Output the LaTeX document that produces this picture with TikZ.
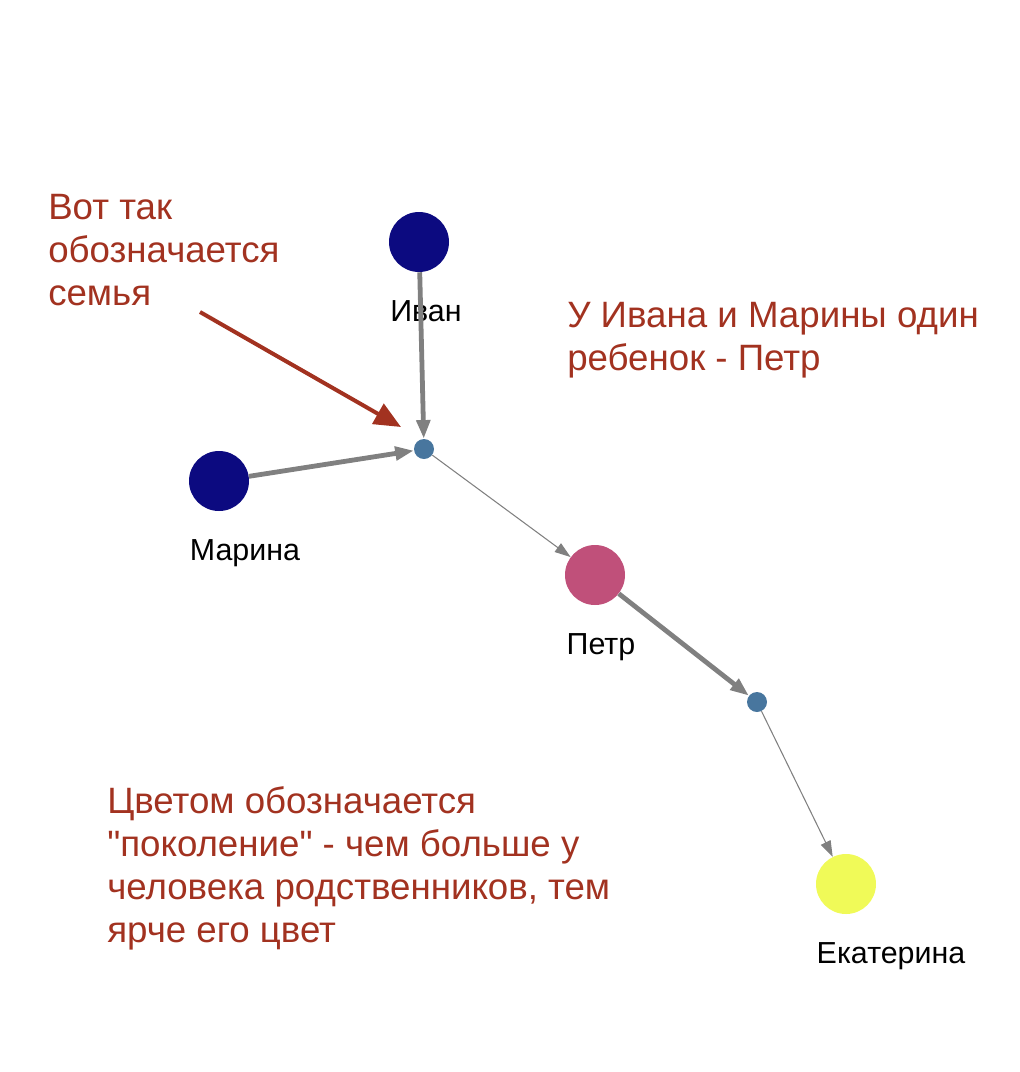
\documentclass[tikz,border=0pt]{standalone}
\usepackage{fontspec}
\setmainfont{Liberation Sans}[Ligatures=TeXOff]
\usetikzlibrary{arrows.meta}
\definecolor{redtxt}{RGB}{162,50,32}
\definecolor{navy}{RGB}{12,10,128}
\definecolor{famblue}{RGB}{72,118,158}
\definecolor{pink}{RGB}{192,80,122}
\definecolor{yel}{RGB}{240,250,88}
\definecolor{edgegray}{RGB}{128,128,128}
\begin{document}
\begin{tikzpicture}[x=0.75pt,y=-0.75pt,
  person/.style={circle,minimum size=45pt,inner sep=0,draw=none},
  family/.style={circle,minimum size=15pt,inner sep=0,fill=famblue,draw=none},
  lbl/.style={font=\fontsize{22.8}{27}\selectfont,anchor=base,inner sep=0},
  note/.style={font=\fontsize{27.5}{32.25}\selectfont,text=redtxt,anchor=base west,align=left,inner sep=0},
  thick edge/.style={draw=edgegray,line width=3.6pt,-{Triangle[length=14pt,width=10pt]}},
  thin edge/.style={draw=edgegray,line width=0.8pt,-{Triangle[length=12pt,width=8pt]}}]
\useasboundingbox (0,0) rectangle (1020,1072);
\node[person,fill=navy] (ivan) at (419,242) {};
\node[person,fill=navy] (marina) at (219,481) {};
\node[family] (f1) at (424,449) {};
\node[person,fill=pink] (petr) at (595,575) {};
\node[family] (f2) at (757,702) {};
\node[person,fill=yel] (ekat) at (846,884) {};
\node[lbl] (livan) at (426,321) {Иван};
\node[lbl] (lmarina) at (245,560) {Марина};
\node[lbl] (lpetr) at (601,654) {Петр};
\node[lbl] (lekat) at (891,963) {Екатерина};
\draw[thick edge] (ivan) -- (f1);
\draw[thick edge] (marina) -- (f1);
\draw[thin edge] (f1) -- (petr);
\draw[thick edge] (petr) -- (f2);
\draw[thin edge] (f2) -- (ekat);
\node[note] (n1) at (48,305) {Вот так\\обозначается\\семья};
\node[note] (n2) at (567,370) {У Ивана и Марины один\\ребенок - Петр};
\node[note] (n3) at (107,942) {Цветом обозначается\\"поколение" - чем больше у\\человека родственников, тем\\ярче его цвет};
\coordinate (as) at (200,312);
\coordinate (ae) at (401,427);
\draw[draw=redtxt,line width=3pt,-{Triangle[length=20pt,width=17pt]}] (as) -- (ae);
\end{tikzpicture}
\end{document}
